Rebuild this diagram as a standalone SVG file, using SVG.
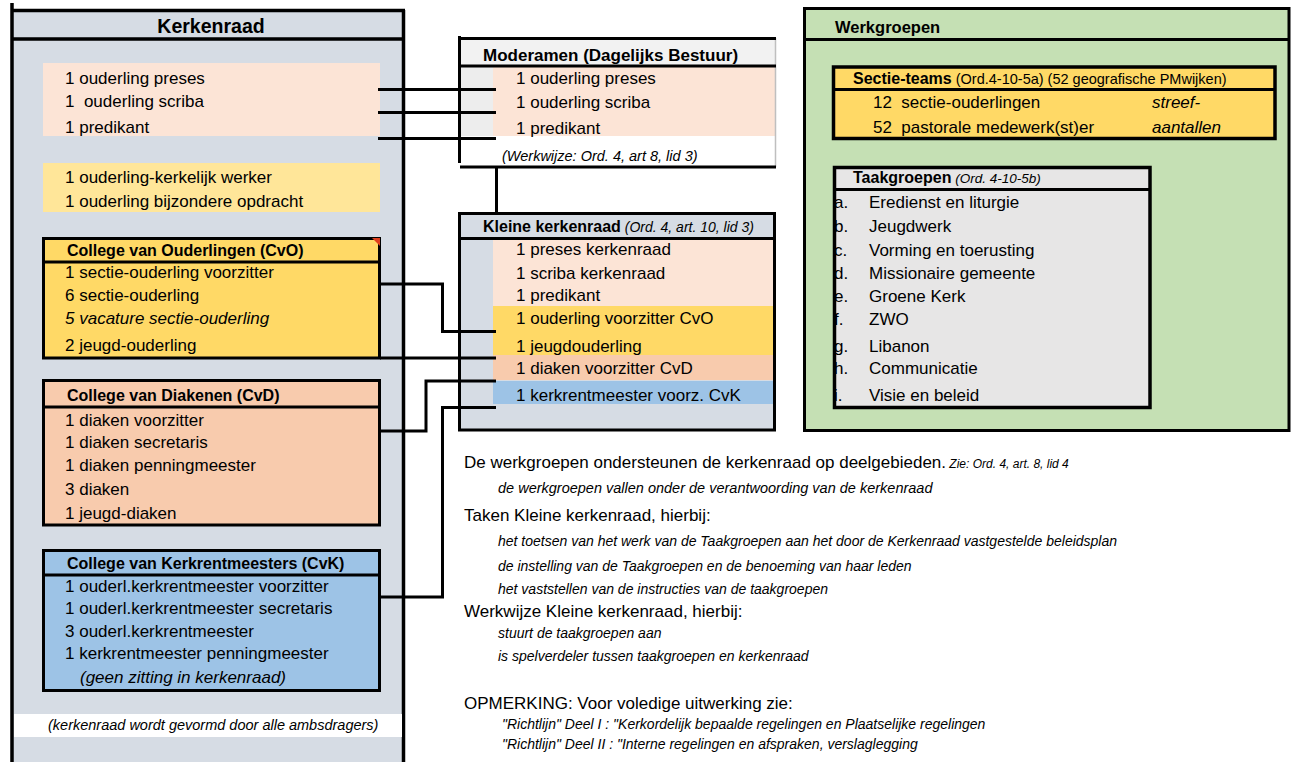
<svg xmlns="http://www.w3.org/2000/svg" width="1295" height="762" viewBox="0 0 1295 762">
<style>
text{font-family:"Liberation Sans",Arial,sans-serif;font-size:17px;fill:#000}
.b{font-weight:bold;font-size:16px}
.i{font-style:italic;font-size:14px}
.it{font-style:italic}
.pre{white-space:pre}
.ln{stroke:#000;stroke-width:3;fill:none}
.bx{stroke:#000;stroke-width:3}
</style>
<defs>
<clipPath id="tgclip"><rect x="835" y="190" width="320" height="220"/></clipPath>
</defs>
<rect x="0" y="0" width="1295" height="762" fill="#fff"/>

<g id="kerkenraad">
<rect x="12" y="10" width="391" height="760" fill="#D6DCE4"/>
<path class="ln" d="M12 3V762M12 10.5H405M403.5 10V762M12 39H403" style="stroke-width:3.5"/>
<text x="211" y="33" class="b" style="font-size:19.5px" text-anchor="middle">Kerkenraad</text>
<rect x="43" y="63" width="337" height="73" fill="#FCE4D6"/>
<text x="65" y="84">1 ouderling preses</text>
<text x="65" y="107" class="pre">1  ouderling scriba</text>
<text x="65" y="133">1 predikant</text>
<rect x="43" y="163" width="337" height="49" fill="#FFE699"/>
<text x="65" y="183">1 ouderling-kerkelijk werker</text>
<text x="65" y="207">1 ouderling bijzondere opdracht</text>
<rect x="14" y="714" width="388" height="23" fill="#fff"/>
<text x="48" y="730" class="i" style="font-size:14.5px">(kerkenraad wordt gevormd door alle ambsdragers)</text>
</g>

<g id="cvo">
<rect x="43.5" y="238.5" width="336" height="119.5" fill="#FFD966" class="bx"/>
<path class="ln" d="M43 262H380"/>
<polygon points="372,238 380,238 380,246" fill="#E0401E"/>
<text x="67" y="256" class="b">College van Ouderlingen (CvO)</text>
<text x="65" y="278">1 sectie-ouderling voorzitter</text>
<text x="65" y="301">6 sectie-ouderling</text>
<text x="65" y="324" class="it">5 vacature sectie-ouderling</text>
<text x="65" y="351">2 jeugd-ouderling</text>
</g>

<g id="cvd">
<rect x="43.5" y="380.5" width="336" height="144.5" fill="#F8CBAD" class="bx"/>
<path class="ln" d="M43 407H380"/>
<text x="67" y="401" class="b">College van Diakenen (CvD)</text>
<text x="65" y="426">1 diaken voorzitter</text>
<text x="65" y="448">1 diaken secretaris</text>
<text x="65" y="471">1 diaken penningmeester</text>
<text x="65" y="495">3 diaken</text>
<text x="65" y="519">1 jeugd-diaken</text>
</g>

<g id="cvk">
<rect x="43.5" y="550.5" width="336" height="140" fill="#9DC3E6" class="bx"/>
<path class="ln" d="M43 575H380"/>
<text x="67" y="569" class="b">College van Kerkrentmeesters (CvK)</text>
<text x="65" y="592">1 ouderl.kerkrentmeester voorzitter</text>
<text x="65" y="614">1 ouderl.kerkrentmeester secretaris</text>
<text x="65" y="637">3 ouderl.kerkrentmeester</text>
<text x="65" y="659">1 kerkrentmeester penningmeester</text>
<text x="80" y="683" class="it">(geen zitting in kerkenraad)</text>
</g>

<g id="moderamen">
<rect x="459" y="38" width="316" height="128" fill="#fff"/>
<rect x="459" y="38" width="316" height="28" fill="#F2F2F2"/>
<rect x="459" y="66" width="34" height="70" fill="#EDEDED"/>
<rect x="493" y="66" width="282" height="70" fill="#FCE4D6"/>
<path d="M775.5 38V167" stroke="#BFBFBF" stroke-width="1.5" fill="none"/>
<path class="ln" d="M459 38.5H776M459.5 36V163M459 66H776M460 167H776"/>
<text x="483" y="61" class="b" style="font-size:17px">Moderamen (Dagelijks Bestuur)</text>
<text x="516" y="84">1 ouderling preses</text>
<text x="516" y="108">1 ouderling scriba</text>
<text x="516" y="134">1 predikant</text>
<text x="502" y="161" class="i" style="font-size:14.5px">(Werkwijze: Ord. 4, art 8, lid 3)</text>
</g>

<g id="kleine-kerkenraad">
<rect x="459" y="213" width="316" height="217" fill="#D6DCE4"/>
<rect x="493" y="238" width="280" height="68" fill="#FCE4D6"/>
<rect x="493" y="306" width="280" height="49" fill="#FFD966"/>
<rect x="493" y="355" width="280" height="25" fill="#F8CBAD"/>
<rect x="493" y="381" width="280" height="23" fill="#9DC3E6"/>
<rect x="459.5" y="213.5" width="315" height="216.5" fill="none" class="bx"/>
<path class="ln" d="M459 238.5H775"/>
<text x="483" y="232"><tspan class="b">Kleine kerkenraad</tspan><tspan class="i"> (Ord. 4, art. 10, lid 3)</tspan></text>
<text x="516" y="255">1 preses kerkenraad</text>
<text x="516" y="279">1 scriba kerkenraad</text>
<text x="516" y="301">1 predikant</text>
<text x="516" y="324">1 ouderling voorzitter CvO</text>
<text x="516" y="352">1 jeugdouderling</text>
<text x="516" y="374">1 diaken voorzitter CvD</text>
<text x="516" y="401">1 kerkrentmeester voorz. CvK</text>
</g>

<g id="werkgroepen">
<rect x="804.5" y="8.5" width="484.5" height="422" fill="#C5E0B4" class="bx"/>
<path class="ln" d="M804 39.5H1289"/>
<text x="835" y="33" class="b" style="font-size:16.5px">Werkgroepen</text>
</g>

<g id="sectie-teams">
<rect x="833.5" y="67" width="441.5" height="71.5" fill="#FFD966" class="bx" style="stroke-width:3.5"/>
<path class="ln" d="M833 89.5H1275"/>
<text x="853" y="83.5"><tspan class="b">Sectie-teams</tspan><tspan style="font-size:14.5px"> (Ord.4-10-5a) (52 geografische PMwijken)</tspan></text>
<text x="873" y="107.5" class="pre">12  sectie-ouderlingen</text>
<text x="1152" y="107.5" class="it">streef-</text>
<text x="873" y="132.5" class="pre">52  pastorale medewerk(st)er</text>
<text x="1152" y="132.5" class="it">aantallen</text>
</g>

<g id="taakgroepen">
<rect x="834.5" y="167.5" width="315.5" height="240" fill="#E7E6E6" class="bx" style="stroke-width:3.5"/>
<path class="ln" d="M834 189.5H1150"/>
<text x="853" y="183"><tspan class="b">Taakgroepen</tspan><tspan class="i" style="font-size:13.5px"> (Ord. 4-10-5b)</tspan></text>
<g clip-path="url(#tgclip)">
<text x="834" y="208">a.</text>
<text x="834" y="232">b.</text>
<text x="834" y="256">c.</text>
<text x="834" y="279">d.</text>
<text x="834" y="302">e.</text>
<text x="834" y="325">f.</text>
<text x="834" y="352">g.</text>
<text x="834" y="374">h.</text>
<text x="834" y="401">i.</text>
</g>
<text x="869" y="208">Eredienst en liturgie</text>
<text x="869" y="232">Jeugdwerk</text>
<text x="869" y="256">Vorming en toerusting</text>
<text x="869" y="279">Missionaire gemeente</text>
<text x="869" y="302">Groene Kerk</text>
<text x="869" y="325">ZWO</text>
<text x="869" y="352">Libanon</text>
<text x="869" y="374">Communicatie</text>
<text x="869" y="401">Visie en beleid</text>
</g>

<g id="connectors">
<path class="ln" d="M378 89.5H496M378 112.5H496M378 138.5H496"/>
<path class="ln" d="M496.5 167V213"/>
<path class="ln" d="M380 284H442.5V331.5H496"/>
<path class="ln" d="M380 358H496"/>
<path class="ln" d="M380 431H426V381H496"/>
<path class="ln" d="M380 597H442.5V407.5H496"/>
</g>

<g id="notes">
<text x="464" y="468">De werkgroepen ondersteunen de kerkenraad op deelgebieden.<tspan class="it" style="font-size:12px"> Zie: Ord. 4, art. 8, lid 4</tspan></text>
<text x="498" y="493" class="i" style="font-size:14.5px">de werkgroepen vallen onder de verantwoording van de kerkenraad</text>
<text x="464" y="521">Taken Kleine kerkenraad, hierbij:</text>
<text x="498" y="546" class="i">het toetsen van het werk van de Taakgroepen aan het door de Kerkenraad vastgestelde beleidsplan</text>
<text x="498" y="571" class="i">de instelling van de Taakgroepen en de benoeming van haar leden</text>
<text x="498" y="594" class="i">het vaststellen van de instructies van de taakgroepen</text>
<text x="464" y="617">Werkwijze Kleine kerkenraad, hierbij:</text>
<text x="498" y="638" class="i">stuurt de taakgroepen aan</text>
<text x="498" y="661" class="i">is spelverdeler tussen taakgroepen en kerkenraad</text>
<text x="464" y="709">OPMERKING: Voor voledige uitwerking zie:</text>
<text x="502" y="729" class="i">"Richtlijn" Deel I : "Kerkordelijk bepaalde regelingen en Plaatselijke regelingen</text>
<text x="502" y="749" class="i">"Richtlijn" Deel II : "Interne regelingen en afspraken, verslaglegging</text>
</g>
</svg>
